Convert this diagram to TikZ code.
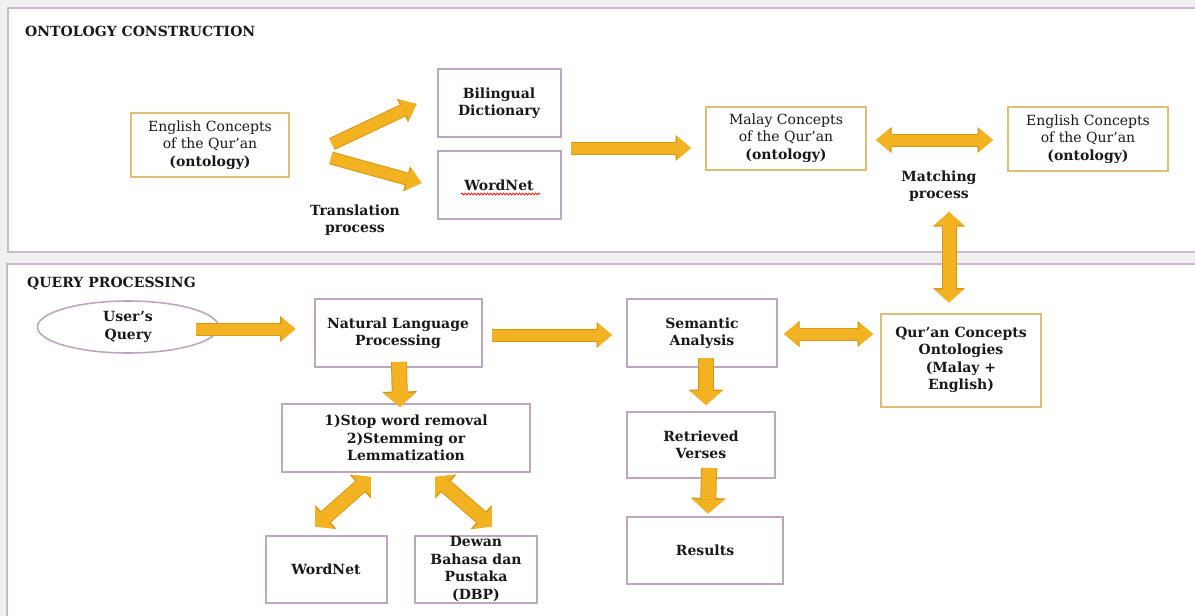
\documentclass[tikz,border=0pt]{standalone}
\usepackage{fontspec}
\setmainfont{DejaVu Serif}
\usetikzlibrary{arrows.meta,shapes.geometric,decorations.pathmorphing,calc}
\definecolor{gold}{RGB}{243,178,34}
\definecolor{golddark}{RGB}{214,152,20}
\definecolor{mauve}{RGB}{188,168,188}
\definecolor{panelline}{RGB}{200,186,202}
\definecolor{goldline}{RGB}{222,190,118}
\definecolor{bggray}{RGB}{241,241,241}
\definecolor{ink}{RGB}{25,25,25}
\tikzset{
  txt/.style={text=ink, font=\fontsize{14}{17.5}\selectfont\bfseries, align=center, inner sep=0pt},
  box/.style={txt, draw=mauve, line width=2pt, fill=white},
  goldbox/.style={box, draw=goldline, font=\fontsize{14}{17.5}\selectfont},
  panel/.style={draw=panelline, line width=2.2pt, fill=white},
  fatarrow/.style={draw=gold, line width=11pt,
    -{Triangle[width=23pt,length=14pt,line width=0pt]},
    preaction={draw=golddark, line width=13pt, -{Triangle[width=26pt,length=15.5pt,line width=0pt]}}},
  fatdouble/.style={draw=gold, line width=11pt,
    {Triangle[width=23pt,length=14pt,line width=0pt]}-{Triangle[width=23pt,length=14pt,line width=0pt]},
    preaction={draw=golddark, line width=13pt, {Triangle[width=26pt,length=15.5pt,line width=0pt]}-{Triangle[width=26pt,length=15.5pt,line width=0pt]}}},
  fatv/.style={draw=gold, line width=14pt,
    -{Triangle[width=32pt,length=14pt,line width=0pt]},
    preaction={draw=golddark, line width=16pt, -{Triangle[width=35pt,length=15.5pt,line width=0pt]}}},
  fatvdouble/.style={draw=gold, line width=13pt,
    {Triangle[width=29pt,length=13pt,line width=0pt]}-{Triangle[width=29pt,length=13pt,line width=0pt]},
    preaction={draw=golddark, line width=15pt, {Triangle[width=32pt,length=14.5pt,line width=0pt]}-{Triangle[width=32pt,length=14.5pt,line width=0pt]}}},
}
\begin{document}
\begin{tikzpicture}[x=1pt,y=-1pt]
\useasboundingbox (0,0) rectangle (1195,616);
\clip (0,0) rectangle (1195,616);
\fill[bggray] (0,0) rectangle (1195,616);

% panels
\draw[panel] (8,8) rectangle (1210,252);
\draw[panel] (7,264) rectangle (1210,630);

\node[txt, anchor=base west] (t1) at (25,36) {ONTOLOGY CONSTRUCTION};
\node[txt, anchor=base west] (t2) at (27,287) {QUERY PROCESSING};

% ontology construction
\node[goldbox, minimum width=158pt, minimum height=64pt] (engL) at (210,145)
  {English Concepts\\of the Qur’an\\\textbf{(ontology)}};
\node[box, minimum width=123pt, minimum height=68pt] (bil) at (499,103) {Bilingual\\Dictionary};
\node[box, minimum width=123pt, minimum height=68pt] (wn1) at (499,185) {WordNet};
\draw[red, line width=0.8pt, decorate, decoration={snake, amplitude=0.9pt, segment length=3.2pt}]
  ([shift={(-38,9)}]wn1.center) -- ([shift={(41,9)}]wn1.center);
\node[txt] (trans) at (355,220) {Translation\\process};
\node[goldbox, minimum width=160pt, minimum height=63pt] (malay) at (786,138)
  {Malay Concepts\\of the Qur’an\\\textbf{(ontology)}};
\node[goldbox, minimum width=160pt, minimum height=64pt] (engR) at (1088,139)
  {English Concepts\\of the Qur’an\\\textbf{(ontology)}};
\node[txt] (match) at (939,186) {Matching\\process};

\draw[fatarrow] ([shift={(42,-1)}]engL.east) -- ([shift={(-20,1)}]bil.west);
\draw[fatarrow] ([shift={(41,13)}]engL.east) -- ([shift={(-15,-2)}]wn1.west);
\coordinate (grp) at (571,148);
\draw[fatarrow] (grp) -- ([xshift=-14pt]malay.west |- grp);
\draw[fatdouble] ([shift={(9,2)}]malay.east) -- ([shift={(-14,1)}]engR.west);

% query processing
\node[draw=mauve, line width=1.6pt, fill=white, ellipse, minimum width=181pt, minimum height=52pt,
  txt] (uq) at (128,327) {User’s\\Query};
\node[box, minimum width=167pt, minimum height=68pt] (nlp) at (398,333) {Natural Language\\Processing};
\node[box, minimum width=150pt, minimum height=68pt] (sa) at (702,333) {Semantic\\Analysis};
\node[goldbox, font=\fontsize{14}{17.5}\selectfont\bfseries, minimum width=160pt, minimum height=93pt] (qc) at (961,360)
  {Qur’an Concepts\\Ontologies\\(Malay +\\English)};
\node[box, minimum width=248pt, minimum height=68pt] (stop) at (406,438)
  {1)Stop word removal\\2)Stemming or\\Lemmatization};
\node[box, minimum width=121pt, minimum height=67pt] (wn2) at (326,569) {WordNet};
\node[box, minimum width=122pt, minimum height=67pt] (dbp) at (476,569)
  {Dewan\\Bahasa dan\\Pustaka\\(DBP)};
\node[box, minimum width=148pt, minimum height=66pt] (ret) at (701,445) {Retrieved\\Verses};
\node[box, minimum width=156pt, minimum height=67pt] (res) at (705,550) {Results};

\coordinate (mtop) at (949,212);
\draw[fatvdouble] (mtop) -- ([yshift=10pt]mtop |- qc.north);

\draw[fatarrow] ([shift={(-23,2)}]uq.east) -- ([shift={(-18,-4)}]nlp.west);
\draw[fatarrow] ([shift={(9,2)}]nlp.east) -- ([shift={(-14,2)}]sa.west);
\draw[fatdouble] ([shift={(6,1)}]sa.east) -- ([xshift=-7pt,yshift=-1pt]sa.east -| qc.west);
\draw[fatv] ([shift={(1,-6)}]nlp.south) -- ([shift={(-6,4)}]stop.north);
\draw[fatvdouble] ([shift={(-35,4)}]stop.south) -- ([shift={(-11,-8)}]wn2.north);
\draw[fatvdouble] ([shift={(29,4)}]stop.south) -- ([shift={(16,-8)}]dbp.north);
\draw[fatv] ([shift={(4,-10)}]sa.south) -- ([shift={(5,-6)}]ret.north);
\draw[fatv] ([shift={(8,-11)}]ret.south) -- ([shift={(3,-2)}]res.north);
\end{tikzpicture}
\end{document}
